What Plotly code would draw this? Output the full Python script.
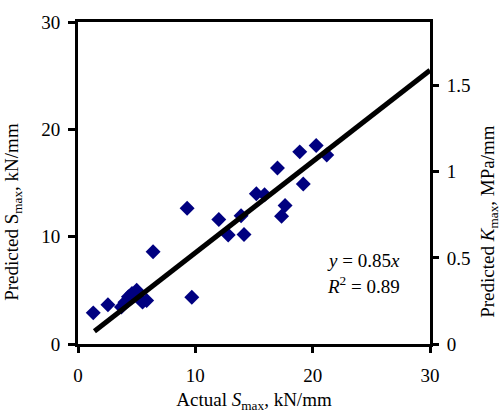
import plotly.graph_objects as go

# Data
actual_s = [1.3, 2.55, 3.7, 4.0, 4.3, 4.6, 5.0, 5.5, 5.85, 6.4, 9.3, 9.7,
            12.0, 12.8, 13.9, 14.15, 15.2, 15.9, 17.0, 17.35, 17.65, 18.9, 19.2, 20.3, 21.2]
pred_s = [2.9, 3.65, 3.45, 3.9, 4.4, 4.7, 5.0, 3.9, 4.05, 8.6, 12.65, 4.35,
          11.6, 10.15, 11.95, 10.2, 14.0, 13.9, 16.4, 11.9, 12.9, 17.9, 14.9, 18.5, 17.6]
fit_x = [1.4, 30]
fit_y = [1.19, 25.5]
x_ticks = [0, 10, 20, 30]
y_ticks = [0, 10, 20, 30]
y2_ticks = [0, 0.5, 1, 1.5]

FONT = "Liberation Serif"
FS = 19
axis_col = "black"

fig = go.Figure()
fig.add_trace(go.Scatter(x=actual_s, y=pred_s, mode="markers",
                         marker=dict(symbol="diamond", size=11.5, color="#000080",
                                     line=dict(width=0)),
                         showlegend=False))
fig.add_trace(go.Scatter(x=fit_x, y=fit_y, mode="lines",
                         line=dict(color="black", width=5), showlegend=False))
fig.add_trace(go.Scatter(x=[None], y=[None], yaxis="y2", showlegend=False,
                         mode="markers", hoverinfo="skip"))

fig.update_layout(
    width=500, height=419,
    margin=dict(l=78, r=70, t=19, b=73),
    paper_bgcolor="white", plot_bgcolor="white",
    font=dict(family=FONT, size=FS, color="black"),
    xaxis=dict(range=[0, 30], tickvals=x_ticks, showgrid=False, zeroline=False,
               showline=True, linecolor=axis_col, linewidth=3, mirror=True,
               ticks="outside", ticklen=6, tickwidth=2.5, tickcolor=axis_col,
               ticklabelstandoff=6,
               title=dict(text="Actual <i>S</i><sub>max</sub>, kN/mm", standoff=8,
                          font=dict(size=FS))),
    yaxis=dict(range=[0, 30], tickvals=y_ticks, showgrid=False, zeroline=False,
               showline=True, linecolor=axis_col, linewidth=3,
               ticks="outside", ticklen=7, tickwidth=2.5, tickcolor=axis_col,
               ticklabelstandoff=4),
    yaxis2=dict(range=[0, 1.87], tickvals=y2_ticks, overlaying="y", side="right",
                showgrid=False, zeroline=False, showline=True, linecolor=axis_col,
                linewidth=3, ticks="outside", ticklen=6, tickwidth=2.5,
                tickcolor=axis_col, ticklabelstandoff=4),
)

fig.add_annotation(text="Predicted S<sub>max</sub>, kN/mm", xref="paper", yref="paper",
                   x=-0.185, y=0.41, textangle=-90, showarrow=False,
                   xanchor="center", yanchor="middle", font=dict(size=FS))
fig.add_annotation(text="Predicted <i>K</i><sub>max</sub>, MPa/mm", xref="paper", yref="paper",
                   x=1.168, y=0.38, textangle=-90, showarrow=False,
                   xanchor="center", yanchor="middle", font=dict(size=FS))
fig.add_annotation(text="<i>y</i> = 0.85<i>x</i>", xref="x", yref="y",
                   x=27.6, y=7.8, showarrow=False, xanchor="right", yanchor="middle",
                   font=dict(size=FS))
fig.add_annotation(text="<i>R</i><sup>2</sup> = 0.89", xref="x", yref="y",
                   x=27.6, y=5.5, showarrow=False, xanchor="right", yanchor="middle",
                   font=dict(size=FS))

fig.write_html("out.html")
